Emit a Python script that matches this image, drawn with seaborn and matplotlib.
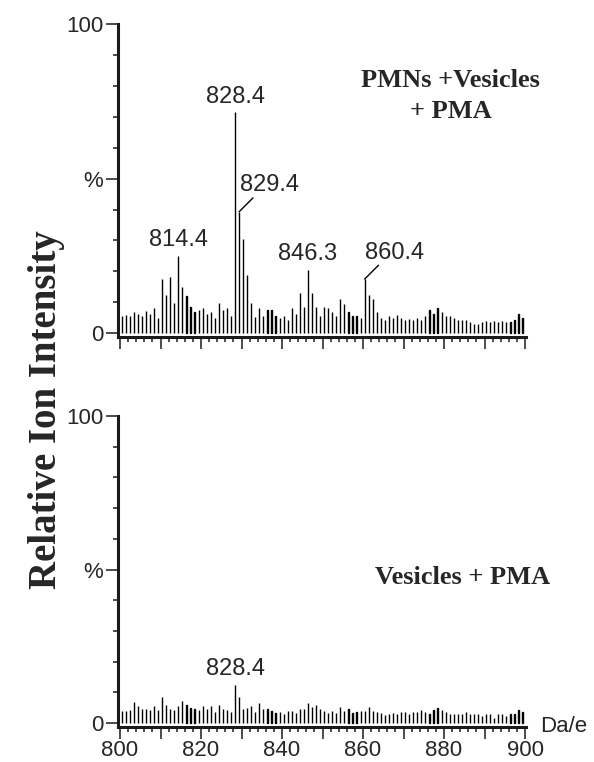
"""Two-panel ESI mass spectrum (PMNs + vesicles + PMA vs vesicles + PMA)."""

import numpy as np
import pandas as pd
import matplotlib

matplotlib.use("Agg")
import matplotlib.pyplot as plt
from matplotlib.ticker import FixedLocator, MultipleLocator, FuncFormatter
import seaborn as sns


# m/z grid of the centroid bars (one per nominal mass, ~.4 offset)
MZ = np.arange(800, 900) + 0.4

# relative intensity (%), upper trace: PMNs + Vesicles + PMA
TOP_INTENSITY = [
    5.5, 6.0, 5.5, 6.7, 6.1, 5.5, 7.3, 6.1, 8.1, 5.0,      # 800-809
    17.4, 12.5, 18.1, 9.9, 24.9, 14.9, 11.9, 8.6, 6.8, 7.4,  # 810-819
    8.1, 6.1, 6.8, 5.0, 9.9, 7.4, 8.1, 5.5, 71.5, 39.3,     # 820-829
    30.6, 18.8, 9.9, 5.3, 8.1, 5.5, 7.4, 7.4, 5.5, 5.0,     # 830-839
    5.5, 4.3, 8.1, 6.1, 13.1, 8.6, 20.5, 13.1, 8.6, 5.5,    # 840-849
    8.6, 8.1, 6.8, 5.5, 11.2, 9.3, 6.8, 5.5, 5.5, 5.0,      # 850-859
    17.5, 12.5, 11.2, 6.8, 5.0, 4.3, 5.5, 5.0, 6.0, 5.0,    # 860-869
    4.3, 4.6, 4.3, 5.0, 4.3, 5.6, 7.4, 6.1, 8.1, 6.8,       # 870-879
    5.5, 5.5, 5.0, 4.3, 4.3, 4.3, 3.5, 3.0, 3.0, 3.5,       # 880-889
    3.8, 3.5, 3.8, 3.5, 3.8, 3.5, 3.5, 4.3, 6.1, 5.0,       # 890-899
]

# relative intensity (%), lower trace: Vesicles + PMA
BOTTOM_INTENSITY = [
    3.8, 4.0, 4.2, 6.7, 5.4, 4.5, 4.5, 4.2, 5.4, 4.2,       # 800-809
    8.5, 5.9, 4.7, 4.2, 5.4, 7.2, 5.9, 4.9, 4.7, 4.2,       # 810-819
    5.4, 4.5, 5.4, 3.6, 5.9, 4.5, 4.2, 3.7, 12.3, 8.5,      # 820-829
    4.7, 5.0, 5.4, 3.5, 6.5, 4.5, 4.5, 3.8, 3.2, 3.6,       # 830-839
    2.9, 4.0, 4.0, 3.2, 4.5, 4.5, 6.5, 5.2, 6.0, 4.5,       # 840-849
    4.0, 3.2, 4.0, 3.2, 5.2, 4.0, 4.5, 3.2, 3.6, 4.0,       # 850-859
    4.0, 5.2, 4.0, 3.6, 3.2, 2.7, 2.9, 3.2, 2.9, 3.5,       # 860-869
    3.5, 2.9, 3.5, 3.5, 4.1, 3.7, 2.9, 4.1, 4.8, 4.1,       # 870-879
    3.5, 2.9, 2.9, 2.9, 2.9, 3.7, 2.9, 2.9, 2.9, 2.4,       # 880-889
    2.9, 2.9, 1.8, 2.9, 2.9, 2.4, 2.9, 2.9, 4.1, 3.5,       # 890-899
]

# peak labels: (bar m/z, label, leader line?)
TOP_PEAKS = [(814.4, "814.4", False), (828.4, "828.4", False), (829.4, "829.4", True),
             (846.4, "846.3", False), (860.4, "860.4", True)]
BOTTOM_PEAKS = [(828.4, "828.4", False)]

TOP_TITLE = "PMNs +Vesicles\n+ PMA"
BOTTOM_TITLE = "Vesicles + PMA"

SANS = ["Liberation Sans", "DejaVu Sans"]
SERIF = ["Liberation Serif", "DejaVu Serif"]


def draw_panel(ax, df, peaks, show_xlabels):
    sns.barplot(data=df, x="mz", y="intensity", native_scale=True, width=0.04,
                color="black", edgecolor="black", linewidth=1.0, errorbar=None, ax=ax)
    ax.set_xlim(799.5, 900.3)
    ax.set_ylim(-1.2, 100)
    sns.despine(ax=ax)
    ax.spines["left"].set_bounds(-1.2, 100)
    for side in ("left", "bottom"):
        ax.spines[side].set_linewidth(2.2)
        ax.spines[side].set_color("#1a1a1a")

    ax.yaxis.set_major_locator(FixedLocator([0, 50, 100]))
    ax.yaxis.set_major_formatter(FuncFormatter(lambda v, p: {0: "0", 50: "%", 100: "100"}.get(int(v), "")))
    ax.yaxis.set_minor_locator(MultipleLocator(10))
    ax.xaxis.set_major_locator(MultipleLocator(10))
    ax.xaxis.set_minor_locator(MultipleLocator(2))
    if show_xlabels:
        ax.xaxis.set_major_formatter(FuncFormatter(lambda v, p: f"{v:.0f}" if round(v) % 20 == 0 else ""))
    else:
        ax.xaxis.set_major_formatter(FuncFormatter(lambda v, p: ""))
    ax.tick_params(axis="both", which="major", direction="out", length=8.5, width=1.1,
                   color="#1a1a1a", labelsize=16, pad=2)
    ax.tick_params(axis="both", which="minor", direction="out", length=3.8, width=1.1, color="#1a1a1a")
    ax.tick_params(axis="x", which="major", pad=1)
    ax.set_xlabel("")
    ax.set_ylabel("")
    for lab in ax.get_xticklabels() + ax.get_yticklabels():
        lab.set_family(SANS)

    heights = dict(zip(df["mz"].round(1), df["intensity"]))
    for mz, text, leader in peaks:
        h = heights[round(mz, 1)]
        if leader:
            ax.annotate("", xy=(mz, h), xytext=(10, 10), textcoords="offset points",
                        arrowprops=dict(arrowstyle="-", color="black", lw=1.0, shrinkA=0, shrinkB=0))
            ax.annotate(text, xy=(mz, h), xytext=(0.5, 11), textcoords="offset points",
                        ha="left", va="bottom", fontsize=17, family=SANS)
        else:
            ax.annotate(text, xy=(mz, h), xytext=(0, 3.5), textcoords="offset points",
                        ha="center", va="bottom", fontsize=17, family=SANS)


sns.set_theme(style="ticks")
plt.rcParams["font.family"] = SANS

fig = plt.figure(figsize=(5.94, 7.62), dpi=100)
ax_top = fig.add_axes([0.1987, 0.558, 0.6872, 0.410])
ax_bot = fig.add_axes([0.1987, 0.0463, 0.6872, 0.4077])

top_df = pd.DataFrame({"mz": MZ, "intensity": TOP_INTENSITY})
bot_df = pd.DataFrame({"mz": MZ, "intensity": BOTTOM_INTENSITY})

draw_panel(ax_top, top_df, TOP_PEAKS, show_xlabels=False)
draw_panel(ax_bot, bot_df, BOTTOM_PEAKS, show_xlabels=True)

ax_top.text(0.815, 0.772, TOP_TITLE, transform=ax_top.transAxes, ha="center", va="center",
            fontsize=19, fontweight="bold", family=SERIF, linespacing=1.45)
ax_bot.text(0.843, 0.479, BOTTOM_TITLE, transform=ax_bot.transAxes, ha="center", va="center",
            fontsize=19, fontweight="bold", family=SERIF)
ax_bot.text(1.035, 0.0, "Da/e", transform=ax_bot.transAxes, ha="left", va="center",
            fontsize=16, family=SANS)
fig.text(0.079, 0.462, "Relative Ion Intensity", rotation=90, ha="center", va="center",
         fontsize=28, fontweight="bold", family=SERIF)

fig.savefig("out.png", dpi=100)
